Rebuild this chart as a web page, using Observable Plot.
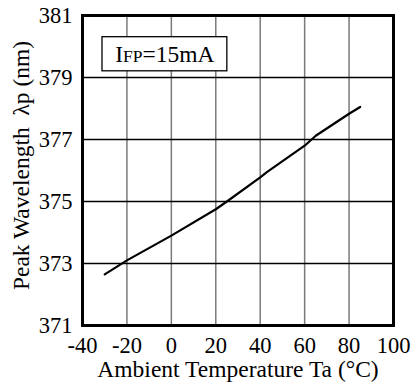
<!DOCTYPE html>
<html>
<head>
<meta charset="utf-8">
<script src="https://cdn.jsdelivr.net/npm/d3@7"></script>
<script src="https://cdn.jsdelivr.net/npm/@observablehq/plot@0.6"></script>
<style>
  html, body { margin: 0; padding: 0; background: #fff; }
</style>
</head>
<body>
<div id="chart"></div>
<script>
const temperature = [-30, -20, 0, 20, 25, 40, 43, 60, 65, 80, 85];
const wavelength = [372.65, 373.1, 373.9, 374.75, 375.0, 375.78, 375.95, 376.8, 377.12, 377.83, 378.05];
const xTicks = [-40, -20, 0, 20, 40, 60, 80, 100];
const yTicks = [371, 373, 375, 377, 379, 381];
const xLabel = "Ambient Temperature Ta (°C)";
const yLabel = "Peak Wavelength  λp (nm)";
const noteBox = [{x1: -31, x2: 25.2, y1: 379.2, y2: 380.3}];
const noteText = [{x: -2.9, y: 379.75, t: "IFP=15mA"}];

const data = temperature.map((t, i) => ({t, w: wavelength[i]}));
const serif = "Liberation Serif";
const fs = 22.5;
const fsLabel = 23.5;

const chart = Plot.plot({
  width: 416,
  height: 386,
  marginLeft: 82,
  marginRight: 23,
  marginTop: 15,
  marginBottom: 61,
  style: {background: "#fff", color: "#000"},
  x: {domain: [-40, 100], axis: null},
  y: {domain: [371, 381], axis: null},
  marks: [
    Plot.gridX(xTicks, {stroke: "#7a7a7a", strokeOpacity: 1, strokeWidth: 1.5}),
    Plot.gridY(yTicks, {stroke: "#000", strokeOpacity: 1, strokeWidth: 1.5}),
    Plot.rect(noteBox, {x1: "x1", x2: "x2", y1: "y1", y2: "y2", fill: "#fff", stroke: "#000", strokeWidth: 1.3}),
    Plot.text(noteText, {x: "x", y: "y", text: "t", fontSize: 23.5, fontFamily: serif, lineAnchor: "middle", fill: "#000", className: "note"}),
    Plot.line(data, {x: "t", y: "w", stroke: "#000", strokeWidth: 2.2}),
    Plot.frame({stroke: "#000", strokeWidth: 3}),
    Plot.text(xTicks, {x: d => d, frameAnchor: "bottom", lineAnchor: "middle", dy: 20, text: d => String(d), fontSize: fs, fontFamily: serif, fill: "#000"}),
    Plot.text(yTicks, {y: d => d, frameAnchor: "left", lineAnchor: "middle", dx: -10, textAnchor: "end", text: d => String(d), fontSize: fs, fontFamily: serif, fill: "#000"}),
    Plot.text([xLabel], {frameAnchor: "bottom", lineAnchor: "middle", dy: 44, textAnchor: "middle", text: d => d, fontSize: fsLabel, fontFamily: serif, fill: "#000"}),
    Plot.text([yLabel], {frameAnchor: "left", lineAnchor: "middle", textAnchor: "middle", dx: -61, dy: -5, rotate: -90, text: d => d, fontSize: fsLabel, fontFamily: serif, fill: "#000"})
  ]
});

// Small-caps style "FP" in the note
d3.select(chart).selectAll("g.note text").each(function() {
  const el = d3.select(this);
  el.text(null);
  el.append("tspan").text("I");
  el.append("tspan").attr("font-size", 17.5).text("FP");
  el.append("tspan").text("=15mA");
});

document.getElementById("chart").appendChild(chart);
</script>
</body>
</html>
